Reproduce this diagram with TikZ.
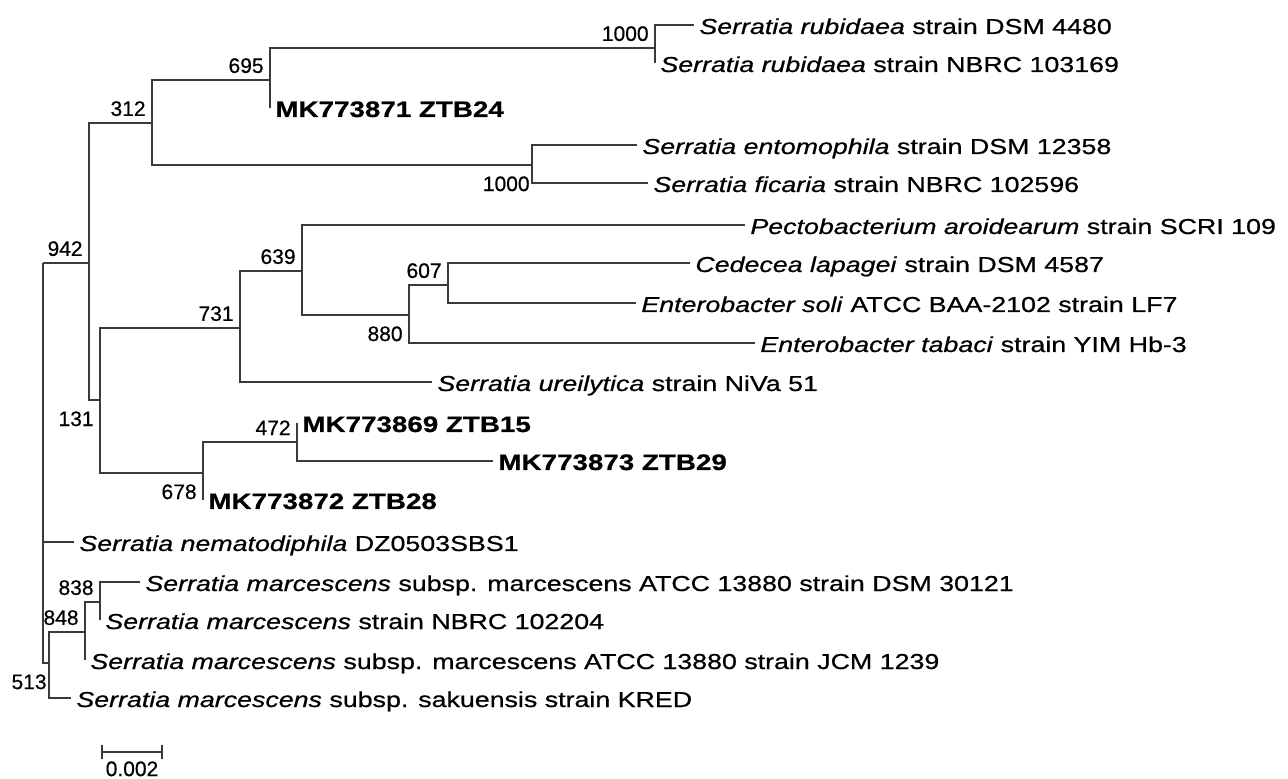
\documentclass[tikz,border=0pt]{standalone}
\usepackage{fontspec}
\usepackage{tikz}
\usetikzlibrary{positioning}
\newfontfamily\leaffont{Liberation Sans}[FakeStretch=1.24,FakeBold=0.7]
\newfontfamily\bootfont{Liberation Sans}[FakeBold=0.5]
\definecolor{treegray}{HTML}{3A3A3A}
\newcommand{\taxon}[1]{\textit{#1}}
\tikzset{
    every edge/.style={draw=treegray,line width=0.8pt},
    branch/.style={to path={|- (\tikztotarget)}},
    leaf/.style={anchor=west,inner xsep=2.5pt,inner ysep=0pt,text height=0.9em,text depth=0pt,
        font=\leaffont\fontsize{10.8}{12}\selectfont},
    isolate/.style={leaf,font=\leaffont\bfseries\fontsize{11.2}{13}\selectfont},
    boot/.style={inner sep=1pt,font=\bootfont\fontsize{10.5}{12}\selectfont},
    bup/.style={boot,above left=2.25pt and 2pt of #1},
    bdn/.style={boot,below left=4.5pt and 2pt of #1},
}

\begin{document}
\begin{tikzpicture}[x=0.5pt,y=-0.5pt]
    \useasboundingbox (0,0) rectangle (1288,779);
    % internal nodes, at the point where the parent branch joins
    \coordinate (r) at (43,263);
    \coordinate (c942) at (89,263);
    \coordinate (c312) at (152,123);
    \coordinate (c695) at (270,80);
    \coordinate (c1000a) at (655,48);
    \coordinate (c1000b) at (532,165);
    \coordinate (c131) at (100,400);
    \coordinate (c731) at (240,328);
    \coordinate (c639) at (302,271);
    \coordinate (c880) at (409,315);
    \coordinate (c607) at (448,285);
    \coordinate (c678) at (203,473);
    \coordinate (c472) at (297,442);
    \coordinate (c513) at (49,663);
    \coordinate (c848) at (85,632);
    \coordinate (c838) at (100,602);

    % leaves
    \node[leaf] (rub1) at (694,25) {\taxon{Serratia rubidaea} strain DSM 4480};
    \node[leaf] (rub2) at (655,63) {\taxon{Serratia rubidaea} strain NBRC 103169};
    \node[isolate] (ztb24) at (270,108) {MK773871 ZTB24};
    \node[leaf] (ento) at (637,145) {\taxon{Serratia entomophila} strain DSM 12358};
    \node[leaf] (fic) at (648,183) {\taxon{Serratia ficaria} strain NBRC 102596};
    \node[leaf] (pecto) at (745,225) {\taxon{Pectobacterium aroidearum} strain SCRI 109};
    \node[leaf] (ced) at (690,263) {\taxon{Cedecea lapagei} strain DSM 4587};
    \node[leaf] (soli) at (636,303) {\taxon{Enterobacter soli} ATCC BAA-2102 strain LF7};
    \node[leaf] (tab) at (755,343) {\taxon{Enterobacter tabaci} strain YIM Hb-3};
    \node[leaf] (ure) at (432,382) {\taxon{Serratia ureilytica} strain NiVa 51};
    \node[isolate] (ztb15) at (297,423) {MK773869 ZTB15};
    \node[isolate] (ztb29) at (493,461) {MK773873 ZTB29};
    \node[isolate] (ztb28) at (203,500) {MK773872 ZTB28};
    \node[leaf] (nema) at (74,542) {\taxon{Serratia nematodiphila} DZ0503SBS1};
    \node[leaf] (dsm) at (140,582) {\taxon{Serratia marcescens} subsp. marcescens ATCC 13880 strain DSM 30121};
    \node[leaf] (nbrc) at (100,620) {\taxon{Serratia marcescens} strain NBRC 102204};
    \node[leaf] (jcm) at (85,660) {\taxon{Serratia marcescens} subsp. marcescens ATCC 13880 strain JCM 1239};
    \node[leaf] (saku) at (71,698) {\taxon{Serratia marcescens} subsp. sakuensis strain KRED};

    % bootstrap values
    \node[bup=c695] (b695) {695};
    \node[bup=c312] (b312) {312};
    \node[bup=c942] (b942) {942};
    \node[bdn=c131] (b131) {131};
    \node[bup=c731] (b731) {731};
    \node[bup=c639] (b639) {639};
    \node[bdn=c880] (b880) {880};
    \node[bup=c607] (b607) {607};
    \node[bdn=c678] (b678) {678};
    \node[bup=c472] (b472) {472};
    \node[bup=c1000a] (b1000a) {1000};
    \node[boot,below left=4.5pt and 0pt of c1000b] (b1000b) {1000};
    \node[bup=c838] (b838) {838};
    \node[bup=c848] (b848) {848};
    \node[boot,below left=4.5pt and 0pt of c513] (b513) {513};

    \path
    (r) edge[branch] (c942)
    (r) edge[branch] (nema)
    (r) edge[branch] (c513)
    (c942) edge[branch] (c312)
    (c942) edge[branch] (c131)
    (c312) edge[branch] (c695)
    (c312) edge[branch] (c1000b)
    (c695) edge[branch] (c1000a)
    (c695) edge[branch] (ztb24)
    (c1000a) edge[branch] (rub1)
    (c1000a) edge[branch] (rub2)
    (c1000b) edge[branch] (ento)
    (c1000b) edge[branch] (fic)
    (c131) edge[branch] (c731)
    (c131) edge[branch] (c678)
    (c731) edge[branch] (c639)
    (c731) edge[branch] (ure)
    (c639) edge[branch] (pecto)
    (c639) edge[branch] (c880)
    (c880) edge[branch] (c607)
    (c880) edge[branch] (tab)
    (c607) edge[branch] (ced)
    (c607) edge[branch] (soli)
    (c678) edge[branch] (c472)
    (c678) edge[branch] (ztb28)
    (c472) edge[branch] (ztb15)
    (c472) edge[branch] (ztb29)
    (c513) edge[branch] (c848)
    (c513) edge[branch] (saku)
    (c848) edge[branch] (c838)
    (c848) edge[branch] (jcm)
    (c838) edge[branch] (dsm)
    (c838) edge[branch] (nbrc);

    % scale bar
    \coordinate (s0) at (102,752);
    \coordinate (s1) at (162,752);
    \draw[treegray,line width=0.8pt] (s0) -- (s1);
    \draw[treegray,line width=0.8pt] (s0) +(0,-7) -- +(0,7);
    \draw[treegray,line width=0.8pt] (s1) +(0,-7) -- +(0,7);
    \node[boot,anchor=north] (sbar) at (132,759) {0.002};
\end{tikzpicture}
\end{document}
